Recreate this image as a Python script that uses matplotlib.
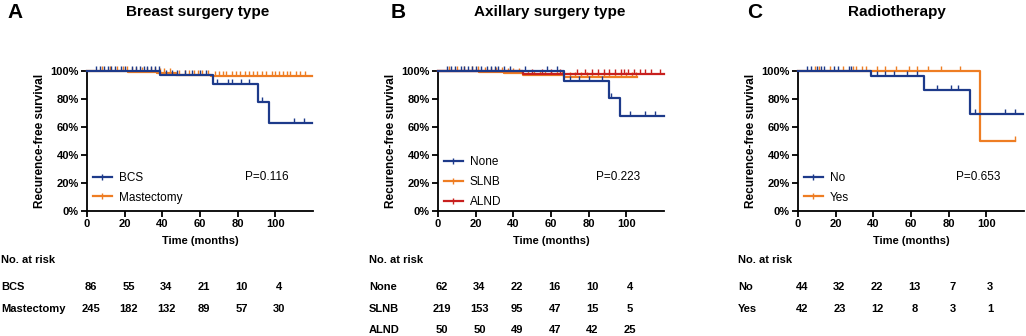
import numpy as np
import matplotlib
matplotlib.use("Agg")
import matplotlib.pyplot as plt
from matplotlib.lines import Line2D
from matplotlib.path import Path
import matplotlib.transforms as mtransforms

plt.rcParams['font.family'] = ['Liberation Sans', 'DejaVu Sans']

BLUE = '#1d3a8a'
ORANGE = '#ee7d23'
RED = '#c8201e'

# ---------------- data ----------------
risk_times = [0, 20, 40, 60, 80, 100]

# Panel A
a_bcs_events = [38.6, 67, 90.8, 96.6]
a_bcs_surv = [97.4, 91.0, 78.0, 62.5]
a_bcs_end = 119.5
a_bcs_cens = [5, 7, 9, 11, 13, 15, 18, 20, 24, 26, 28, 30, 32, 34, 36, 38,
              42, 45, 48, 52, 56, 60, 63, 69, 75, 77, 82, 86, 93, 110, 115]
a_mas_events = [22, 37, 47, 66]
a_mas_surv = [99.2, 98.4, 97.4, 96.6]
a_mas_end = 119.5
a_mas_cens = [8, 12, 16, 19, 21, 24, 26, 29, 32, 34, 36, 39, 41, 44, 49, 52,
              54, 57, 59, 61, 64, 68, 70, 72, 74, 77, 79, 81, 84, 86, 88, 90,
              93, 95, 98, 100, 102, 104, 106, 108, 111, 113, 116]
a_labels = ['BCS', 'Mastectomy']
a_risk_bcs = [86, 55, 34, 21, 10, 4]
a_risk_mas = [245, 182, 132, 89, 57, 30]
a_p = 'P=0.116'

# Panel B
b_none_events = [67, 91, 96.5]
b_none_surv = [92.8, 81.0, 67.5]
b_none_end = 119.8
b_none_cens = [5, 7, 9, 12, 14, 16, 18, 20, 23, 26, 28, 30, 32, 35, 38, 46,
               58, 63, 70, 75, 80, 87, 92, 102, 110, 115]
b_slnb_events = [22, 35, 45, 67]
b_slnb_surv = [99.2, 98.3, 97.0, 95.8]
b_slnb_end = 105.5
b_slnb_cens = [6, 10, 14, 18, 21, 25, 28, 31, 34, 37, 40, 43, 48, 51, 54, 57,
               60, 63, 66, 70, 73, 76, 79, 82, 85, 88, 91, 94, 97, 100, 103, 105]
b_alnd_events = [45]
b_alnd_surv = [98.0]
b_alnd_end = 119.8
b_alnd_cens = [50, 55, 60, 65, 74, 78, 82, 85, 88, 91, 94, 97, 99, 101, 104,
               107, 110, 113, 118]
b_labels = ['None', 'SLNB', 'ALND']
b_risk_none = [62, 34, 22, 16, 10, 4]
b_risk_slnb = [219, 153, 95, 47, 15, 5]
b_risk_alnd = [50, 50, 49, 47, 42, 25]
b_p = 'P=0.223'

# Panel C
c_no_events = [38.6, 66.8, 91.5]
c_no_surv = [96.2, 86.4, 69.0]
c_no_end = 119.5
c_no_cens = [5, 7, 10, 12, 14, 19, 21, 27, 28, 42, 46, 51, 58, 63, 74, 81, 85,
             94, 110, 115]
c_yes_events = [96.8]
c_yes_surv = [50.0]
c_yes_end = 115
c_yes_cens = [9, 11, 17, 24, 29, 31, 34, 36, 42, 46, 52, 59, 63, 69, 76, 86, 115]
c_labels = ['No', 'Yes']
c_risk_no = [44, 32, 22, 13, 7, 3]
c_risk_yes = [42, 23, 12, 8, 3, 1]
c_p = 'P=0.653'

# ---------------- helpers ----------------
tick_up = Path([(0, 0), (0, 1)], [Path.MOVETO, Path.LINETO])


def km(ax, events, surv, end, cens, color, z=2):
    t = np.array([0] + list(events) + [end], dtype=float)
    s = np.array([100] + list(surv) + [surv[-1]], dtype=float)
    ax.step(t, s, where='post', color=color, lw=1.6, clip_on=False, zorder=z)
    c = np.array(cens, dtype=float)
    idx = np.searchsorted(t, c, side='right') - 1
    ax.plot(c, s[idx], linestyle='none', marker=tick_up, markersize=7,
            markeredgewidth=1.0, color=color, clip_on=False, zorder=z)


def style(ax):
    ax.set_xlim(0, 120)
    ax.set_ylim(0, 100)
    ax.set_xticks([0, 20, 40, 60, 80, 100])
    ax.set_yticks([0, 20, 40, 60, 80, 100])
    ax.set_yticklabels([f'{v}%' for v in range(0, 101, 20)])
    for sp in ['top', 'right']:
        ax.spines[sp].set_visible(False)
    for sp in ['left', 'bottom']:
        ax.spines[sp].set_linewidth(1.3)
    ax.tick_params(axis='both', length=4, width=1.3, labelsize=8, pad=2)
    for lab in ax.get_xticklabels() + ax.get_yticklabels():
        lab.set_fontweight('bold')
    ax.set_ylabel('Recurence-free survival', fontsize=8.5, fontweight='bold', labelpad=3)
    ax.set_xlabel('Time (months)', fontsize=8, fontweight='bold', labelpad=5)


def legend(ax, labels, colors, y0):
    handles = [Line2D([0], [0], color=c, lw=1.6, marker='|', markersize=4,
                      markeredgewidth=1.0) for c in colors]
    ax.legend(handles, labels, loc='upper left', bbox_to_anchor=(0.0, y0),
              frameon=False, fontsize=8.5, handlelength=1.6, handletextpad=0.6,
              labelspacing=0.67, borderaxespad=0.3, borderpad=0.2)


W, H = 1026, 336
fig = plt.figure(figsize=(W / 100, H / 100), dpi=100)


def axes_px(left, right, top=71, bottom=211):
    return fig.add_axes([left / W, 1 - bottom / H, (right - left) / W, (bottom - top) / H])


axA = axes_px(87, 313)
axB = axes_px(438, 664)
axC = axes_px(798, 1024)

km(axA, a_mas_events, a_mas_surv, a_mas_end, a_mas_cens, ORANGE, 2)
km(axA, a_bcs_events, a_bcs_surv, a_bcs_end, a_bcs_cens, BLUE, 3)
km(axB, b_slnb_events, b_slnb_surv, b_slnb_end, b_slnb_cens, ORANGE, 2)
km(axB, b_alnd_events, b_alnd_surv, b_alnd_end, b_alnd_cens, RED, 3)
km(axB, b_none_events, b_none_surv, b_none_end, b_none_cens, BLUE, 4)
km(axC, c_yes_events, c_yes_surv, c_yes_end, c_yes_cens, ORANGE, 2)
km(axC, c_no_events, c_no_surv, c_no_end, c_no_cens, BLUE, 3)

for ax in (axA, axB, axC):
    style(ax)

legend(axA, a_labels, [BLUE, ORANGE], 0.323)
legend(axB, b_labels, [BLUE, ORANGE, RED], 0.434)
legend(axC, c_labels, [BLUE, ORANGE], 0.323)

for ax, p in ((axA, a_p), (axB, b_p), (axC, c_p)):
    ax.text(0.70, 0.243, p, transform=ax.transAxes, fontsize=8.5, va='center', ha='left')


def ftext(x, y, s, **kw):
    fig.text(x / W, 1 - y / H, s, **kw)


# panel letters and titles
ftext(15, 12, 'A', fontsize=15, fontweight='bold', ha='center', va='center')
ftext(398, 12, 'B', fontsize=15, fontweight='bold', ha='center', va='center')
ftext(755, 12, 'C', fontsize=15, fontweight='bold', ha='center', va='center')
ftext(198, 12, 'Breast surgery type', fontsize=11, fontweight='bold', ha='center', va='center')
ftext(550, 12, 'Axillary surgery type', fontsize=11, fontweight='bold', ha='center', va='center')
ftext(897, 12, 'Radiotherapy', fontsize=11, fontweight='bold', ha='center', va='center')


# risk tables
def risk_table(ax, xlab, labels, rows):
    ftext(xlab, 260, 'No. at risk', fontsize=8, fontweight='bold', ha='left', va='center')
    trans = mtransforms.blended_transform_factory(ax.transData, fig.transFigure)
    for i, (lab, vals) in enumerate(zip(labels, rows)):
        y = 287 + i * 21.5
        ftext(xlab, y, lab, fontsize=8, fontweight='bold', ha='left', va='center')
        for t, v in zip(risk_times, vals):
            fig.text(t + 2, 1 - y / H, str(v), transform=trans, fontsize=8,
                     fontweight='bold', ha='center', va='center')


risk_table(axA, 1, a_labels, [a_risk_bcs, a_risk_mas])
risk_table(axB, 369, b_labels, [b_risk_none, b_risk_slnb, b_risk_alnd])
risk_table(axC, 738, c_labels, [c_risk_no, c_risk_yes])

fig.savefig('out.png', dpi=100)
